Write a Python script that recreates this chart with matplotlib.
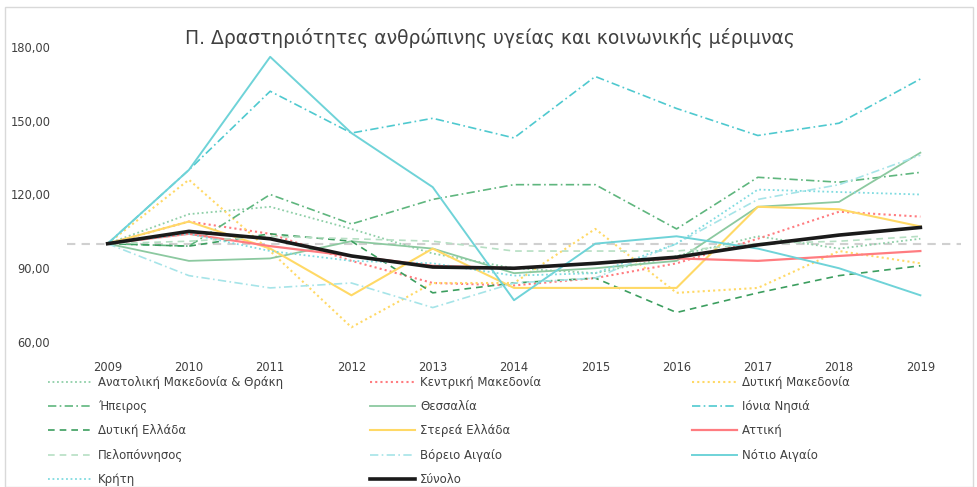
import matplotlib.pyplot as plt
from matplotlib.patches import Rectangle

# Data
years = ['2009', '2010', '2011', '2012', '2013', '2014', '2015', '2016', '2017', '2018', '2019']
amth = [100, 112, 115, 106, 96, 90, 88, 95, 103, 98, 102]
kentr_mak = [100, 109, 104, 93, 84, 83, 86, 92, 102, 113, 111]
dyt_mak = [100, 126, 97, 66, 84, 84, 106, 80, 82, 97, 92]
ipeiros = [100, 99, 120, 108, 118, 124, 124, 106, 127, 125, 129]
thessalia = [100, 93, 94, 101, 98, 88, 90, 93, 115, 117, 137]
ionia = [100, 130, 162, 145, 151, 143, 168, 155, 144, 149, 167]
dyt_ellada = [100, 99, 104, 101, 80, 84, 86, 72, 80, 87, 91]
sterea = [100, 109, 98, 79, 98, 82, 82, 82, 115, 114, 107]
attiki = [100, 104, 99, 95, 91, 90, 92, 94, 93, 95, 97]
peloponnisos = [100, 101, 103, 102, 101, 97, 97, 97, 100, 101, 103]
vor_aigaio = [100, 87, 82, 84, 74, 84, 86, 100, 118, 124, 136]
not_aigaio = [100, 130, 176, 145, 123, 77, 100, 103, 98, 90, 79]
kriti = [100, 104, 97, 93, 92, 87, 88, 100, 122, 121, 120]
synolo = [100, 105, 102, 95, 90.5, 90, 92, 94.5, 99.5, 103.5, 106.6]

dot = (0, (1, 1.5))
dash = (0, (4, 3))
dashdot = (0, (5, 2, 1, 2))

series = [
    ('Ανατολική Μακεδονία & Θράκη', amth, '#8fcfa8', dot, 1.3),
    ('Κεντρική Μακεδονία', kentr_mak, '#ff7c80', dot, 1.5),
    ('Δυτική Μακεδονία', dyt_mak, '#ffd966', dot, 1.5),
    ('Ήπειρος', ipeiros, '#5fb67e', dashdot, 1.2),
    ('Θεσσαλία', thessalia, '#8cc9a0', '-', 1.3),
    ('Ιόνια Νησιά', ionia, '#4fc9cf', dashdot, 1.2),
    ('Δυτική Ελλάδα', dyt_ellada, '#3c9e5f', dash, 1.2),
    ('Στερεά Ελλάδα', sterea, '#ffd966', '-', 1.5),
    ('Αττική', attiki, '#ff7c80', '-', 1.6),
    ('Πελοπόννησος', peloponnisos, '#b6dfc3', dash, 1.2),
    ('Βόρειο Αιγαίο', vor_aigaio, '#a6e4e8', dashdot, 1.2),
    ('Νότιο Αιγαίο', not_aigaio, '#6fd3d8', '-', 1.4),
    ('Κρήτη', kriti, '#7fdbe0', dot, 1.3),
    ('Σύνολο', synolo, '#1a1a1a', '-', 2.6),
]

fig = plt.figure(figsize=(9.78, 4.87), dpi=100)
fig.patches.append(Rectangle((0.005, 0.0), 0.99, 0.985, transform=fig.transFigure,
                             fill=False, edgecolor='#d9d9d9', linewidth=1))
ax = fig.add_axes([67 / 978, (487 - 342) / 487, (961 - 67) / 978, (342 - 47) / 487])

x = list(range(len(years)))
ax.axhline(100, color='#d0d0d0', linestyle=(0, (4, 3)), linewidth=1.5, zorder=1)

handles = []
for name, vals, color, ls, lw in series:
    h, = ax.plot(x, vals, color=color, linestyle=ls, linewidth=lw, label=name, zorder=2)
    handles.append(h)
handles[-1].set_zorder(3)

ax.set_xlim(-0.5, len(years) - 0.5)
ax.set_ylim(60, 180)
ax.set_yticks([60, 90, 120, 150, 180])
ax.set_yticklabels(['60,00', '90,00', '120,00', '150,00', '180,00'])
ax.set_xticks(x)
ax.set_xticklabels(years)
ax.tick_params(length=0, labelsize=8.3, colors='#404040')
ax.tick_params(axis='x', pad=14)
ax.tick_params(axis='y', pad=12)
for s in ax.spines.values():
    s.set_visible(False)

fig.text(490 / 978, 1 - 38 / 487,
         'Π. Δραστηριότητες ανθρώπινης υγείας και κοινωνικής μέριμνας',
         fontsize=13.5, color='#404040', ha='center', va='center')

# Legend: three columns, row-major like the original
col_x = [48 / 978, 370 / 978, 692 / 978]
for c in range(3):
    hs = handles[c::3]
    leg = fig.legend(hs, [h.get_label() for h in hs], loc='upper left',
                     bbox_to_anchor=(col_x[c], 1 - 376 / 487), frameon=False,
                     fontsize=8.5, handlelength=3.8, handletextpad=0.45,
                     labelspacing=0.95, borderaxespad=0, borderpad=0)
    for t in leg.get_texts():
        t.set_color('#404040')

plt.savefig('out.png', dpi=100)
